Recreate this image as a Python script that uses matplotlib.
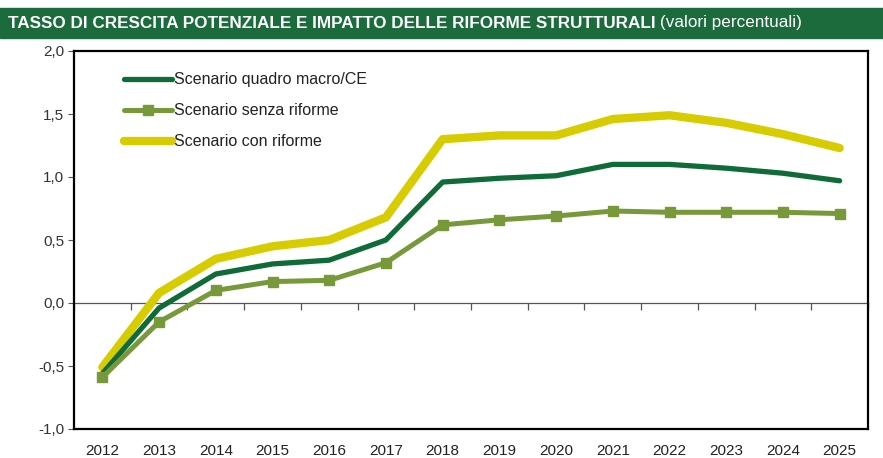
import numpy as np
from matplotlib import pyplot as plt
from matplotlib.patches import Rectangle

# data
years = ['2012', '2013', '2014', '2015', '2016', '2017', '2018',
         '2019', '2020', '2021', '2022', '2023', '2024', '2025']
quadro_macro = [-0.56, -0.04, 0.23, 0.31, 0.34, 0.50, 0.96,
                0.99, 1.01, 1.10, 1.10, 1.07, 1.03, 0.97]
senza_riforme = [-0.59, -0.15, 0.10, 0.17, 0.18, 0.32, 0.62,
                 0.66, 0.69, 0.73, 0.72, 0.72, 0.72, 0.71]
con_riforme = [-0.51, 0.08, 0.35, 0.45, 0.50, 0.68, 1.30,
               1.33, 1.33, 1.46, 1.49, 1.43, 1.34, 1.23]
labels = ['Scenario quadro macro/CE', 'Scenario senza riforme',
          'Scenario con riforme']
y_ticks = [-1.0, -0.5, 0.0, 0.5, 1.0, 1.5, 2.0]

DARK = '#0f6b37'
OLIVE = '#77993a'
YELLOW = '#d6cc00'
BAND = '#1b6b3c'

plt.rcParams['font.family'] = ['Liberation Sans', 'DejaVu Sans']


def main():
    fig = plt.figure(figsize=(8.83, 4.58), dpi=100)
    ax = fig.add_axes([74 / 883, 29 / 458, 794 / 883, 378 / 458])

    x = np.arange(len(years))
    ax.plot(x, quadro_macro, color=DARK, lw=3.8, solid_capstyle='round',
            label=labels[0], zorder=3)
    ax.plot(x, senza_riforme, color=OLIVE, lw=3.6, marker='s', ms=6.5,
            solid_capstyle='round', label=labels[1], zorder=3)
    ax.plot(x, con_riforme, color=YELLOW, lw=6, solid_capstyle='round',
            label=labels[2], zorder=2)

    ax.set_xlim(-0.5, len(years) - 0.5)
    ax.set_ylim(-1.0, 2.0)
    ax.set_yticks(y_ticks)
    ax.set_yticklabels([('%.1f' % v).replace('.', ',') for v in y_ticks])
    ax.set_xticks(x)
    ax.set_xticklabels(years)
    ax.tick_params(axis='x', length=0, pad=11, labelsize=11, labelcolor='#222222')
    ax.tick_params(axis='y', length=4, width=0.8, color='#555555', pad=3,
                   labelsize=11, labelcolor='#333333')
    for sp in ax.spines.values():
        sp.set_linewidth(1.6)
        sp.set_color('black')

    # zero line with boundary ticks
    sec = ax.secondary_xaxis(1 / 3)
    sec.set_xticks(np.arange(-0.5, len(years), 1.0))
    sec.set_xticklabels([])
    sec.tick_params(length=5, width=0.9, color='#555555', direction='out')
    sec.spines['bottom'].set_linewidth(0.9)
    sec.spines['bottom'].set_color('#555555')

    leg = ax.legend(loc='upper left', bbox_to_anchor=(0.045, 0.982), frameon=False,
                    fontsize=11.5, handlelength=3.0, handletextpad=0.15,
                    labelspacing=1.0)
    for t in leg.get_texts():
        t.set_color('#222222')

    # title band
    fig.patches.append(Rectangle((0, 420 / 458), 1, 30 / 458,
                                 transform=fig.transFigure, color=BAND, zorder=0))
    t1 = fig.text(8 / 883, 435 / 458, 'TASSO DI CRESCITA POTENZIALE E IMPATTO DELLE RIFORME STRUTTURALI',
                  color='white', fontsize=12.3, fontweight='bold', va='center',
                  family=['Liberation Sans Narrow', 'Liberation Sans'])
    fig.canvas.draw()
    bb = t1.get_window_extent()
    fig.text((bb.x1 + 4) / 883, 435 / 458, '(valori percentuali)',
             color='white', fontsize=12.3, va='center',
             family=['Liberation Sans Narrow', 'Liberation Sans'])

    plt.savefig('out.png', dpi=100)
    plt.close()


if __name__ == '__main__':
    main()
